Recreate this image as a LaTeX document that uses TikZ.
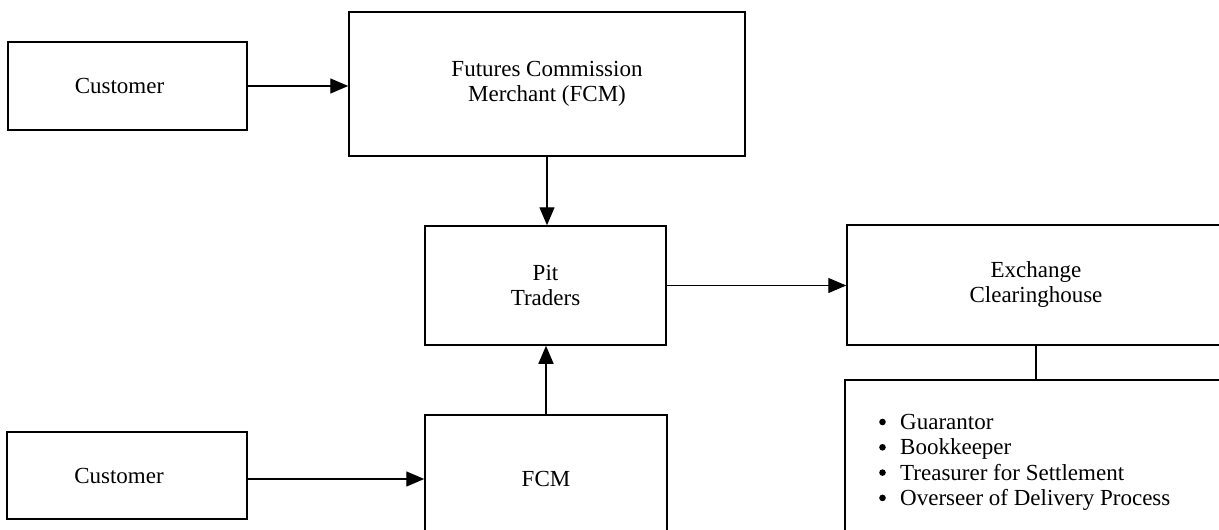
\documentclass[tikz,border=0pt]{standalone}
\usepackage{fontspec}
\setmainfont{Liberation Serif}
\usetikzlibrary{arrows.meta}
\begin{document}
\begin{tikzpicture}[x=1pt,y=-1pt,
  box/.style={draw=black,line width=1.5pt,rectangle,inner sep=0pt,align=center,
    font=\fontsize{23}{25}\selectfont},
  conn/.style={line width=1.4pt,-{Triangle[length=18pt,width=15pt]}},
  plain/.style={line width=1.4pt},
  itemtxt/.style={font=\fontsize{23}{25}\selectfont,inner sep=0pt,anchor=base west},
  bul/.style={fill=black}]
\useasboundingbox (0,0) rectangle (1219,530);
\clip (0,0) rectangle (1219,530);
\fill[white] (0,0) rectangle (1219,530);
\node[box,minimum width=239pt,minimum height=88pt] (cust1) at (127.5,86) {Customer\hspace*{16pt}};
\node[box,minimum width=396pt,minimum height=144pt] (fcm1) at (547,84) {Futures Commission\\Merchant (FCM)};
\node[box,minimum width=241pt,minimum height=119pt] (pit) at (545.5,285.5) {Pit\\Traders};
\node[box,minimum width=378pt,minimum height=120pt] (exch) at (1036,285) {Exchange\\Clearinghouse};
\node[box,minimum width=382pt,minimum height=160pt] (list) at (1036,460) {};
\node[itemtxt] (i1) at (900,429.5) {Guarantor};
\node[itemtxt] (i2) at (900,454.8) {Bookkeeper};
\node[itemtxt] (i3) at (900,480.1) {Treasurer for Settlement};
\node[itemtxt] (i4) at (900,505.4) {Overseer of Delivery Process};
\foreach \i in {i1,i2,i3,i4}
  \fill[bul] (\i.base west) ++(-17.5,-7.5) circle (3.3);
\node[box,minimum width=240pt,minimum height=87pt] (cust2) at (127,475.5) {Customer\hspace*{16pt}};
\node[box,minimum width=242pt,minimum height=128pt] (fcm2) at (546,479) {FCM};
\draw[conn] (cust1) -- (cust1 -| fcm1.west);
\draw[conn] (fcm1.south) -- (fcm1.south |- pit.north);
\draw[conn] (pit) -- (pit -| exch.west);
\draw[conn] (cust2.east |- fcm2) -- (fcm2.west);
\draw[conn] (fcm2.north) -- (fcm2.north |- pit.south);
\draw[plain] (exch.south) -- (exch.south |- list.north);
\end{tikzpicture}
\end{document}
